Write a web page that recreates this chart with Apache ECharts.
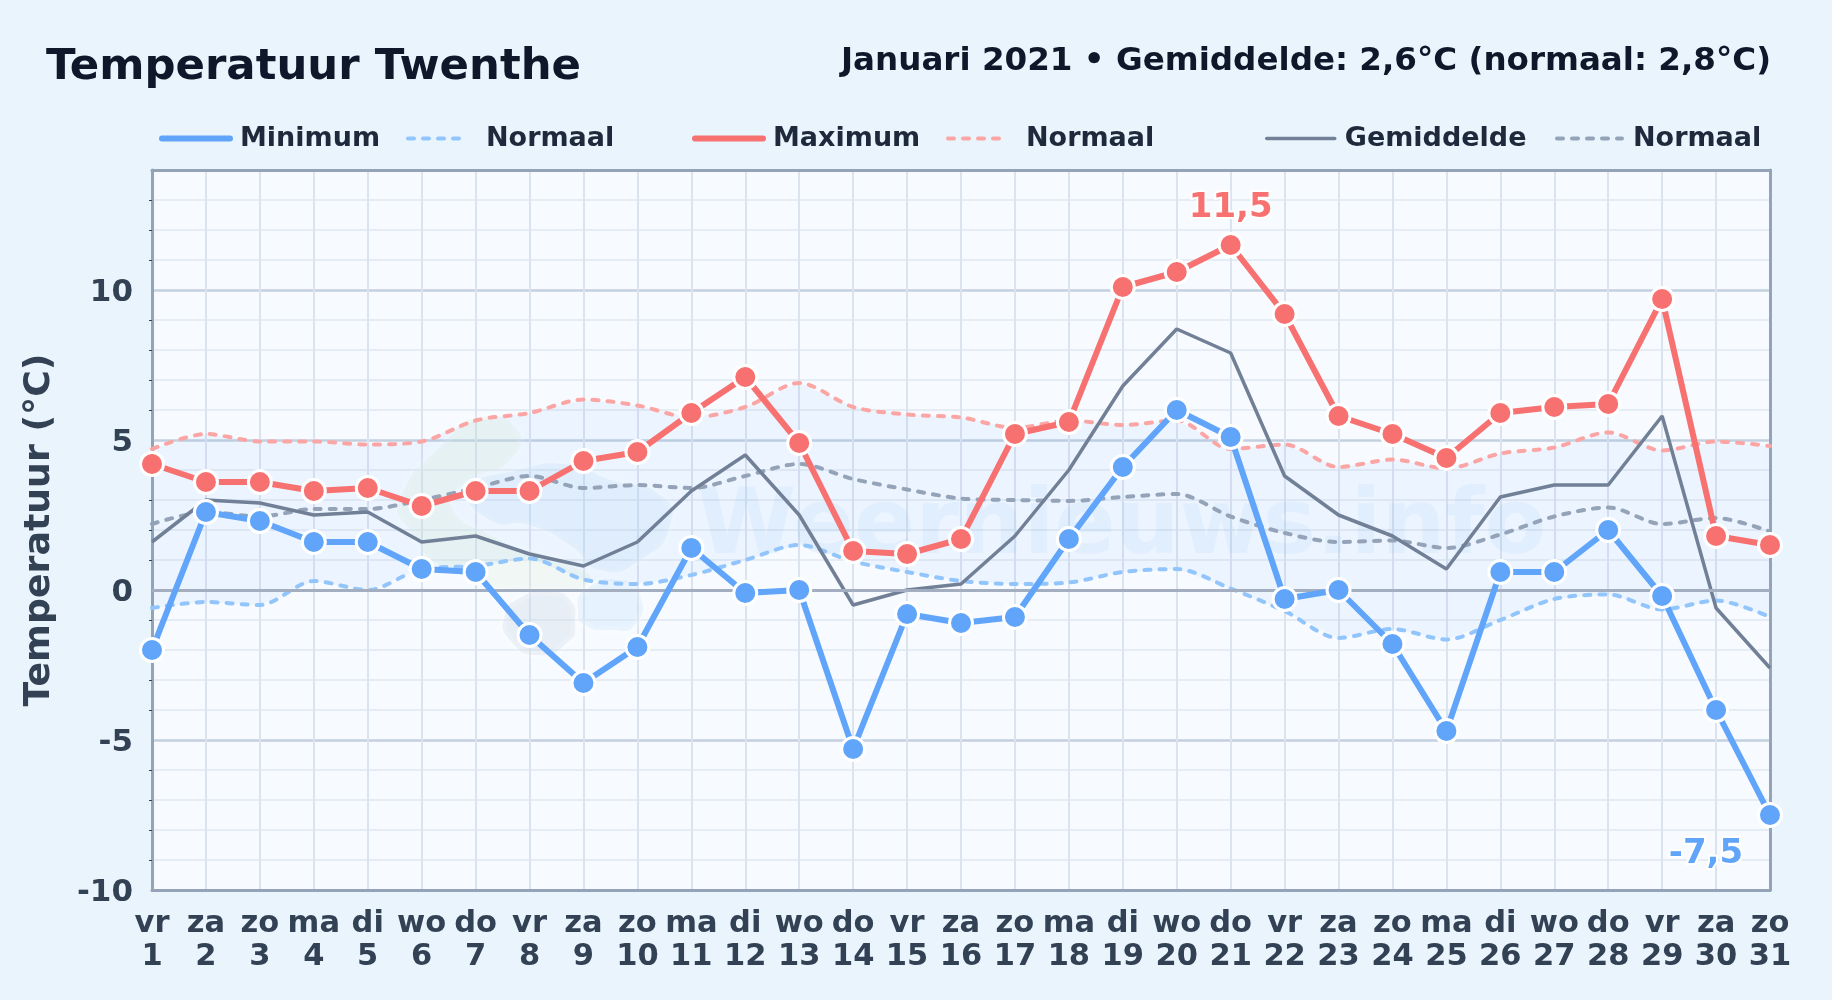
<!DOCTYPE html>
<html><head><meta charset="utf-8">
<script src="https://cdn.jsdelivr.net/npm/echarts@6/dist/echarts.min.js"></script>
<style>html,body{margin:0;padding:0;background:#eaf4fc}#c{width:1832px;height:1000px}</style>
</head><body><div id="c"></div>
<script>
const weekdays = ['vr','za','zo','ma','di','wo','do','vr','za','zo','ma','di','wo','do','vr','za','zo','ma','di','wo','do','vr','za','zo','ma','di','wo','do','vr','za','zo'];
const days = [1,2,3,4,5,6,7,8,9,10,11,12,13,14,15,16,17,18,19,20,21,22,23,24,25,26,27,28,29,30,31];
const minimum = [-2,2.6,2.3,1.6,1.6,0.7,0.6,-1.5,-3.1,-1.9,1.4,-0.1,0,-5.3,-0.8,-1.1,-0.9,1.7,4.1,6.0,5.1,-0.3,0,-1.8,-4.7,0.6,0.6,2.0,-0.2,-4.0,-7.5];
const maximum = [4.2,3.6,3.6,3.3,3.4,2.8,3.3,3.3,4.3,4.6,5.9,7.1,4.9,1.3,1.2,1.7,5.2,5.6,10.1,10.6,11.5,9.2,5.8,5.2,4.4,5.9,6.1,6.2,9.7,1.8,1.5];
const gemiddelde = [1.6,3.0,2.9,2.5,2.6,1.6,1.8,1.2,0.8,1.6,3.3,4.5,2.5,-0.5,0,0.2,1.8,4.0,6.8,8.7,7.9,3.8,2.5,1.8,0.7,3.1,3.5,3.5,5.8,-0.6,-2.6];
const normaalMin = [-0.6,-0.4,-0.5,0.3,0,0.7,0.8,1.05,0.35,0.2,0.5,1.0,1.5,0.95,0.6,0.3,0.2,0.25,0.6,0.7,0.05,-0.7,-1.6,-1.3,-1.65,-1.0,-0.3,-0.15,-0.65,-0.35,-0.9];
const normaalMax = [4.7,5.2,4.95,4.95,4.85,4.95,5.65,5.9,6.35,6.15,5.75,6.1,6.9,6.1,5.85,5.75,5.4,5.65,5.5,5.65,4.7,4.85,4.1,4.35,4.05,4.55,4.75,5.25,4.65,4.95,4.8];
const normaalGem = [2.2,2.6,2.45,2.7,2.7,3.0,3.4,3.8,3.4,3.5,3.4,3.8,4.2,3.7,3.35,3.05,3.0,2.97,3.1,3.2,2.45,1.9,1.6,1.65,1.4,1.85,2.45,2.75,2.2,2.4,1.95];
const categories = weekdays.map((w,i)=>w+'\n'+days[i]);
const FONT = '"DejaVu Sans"';
const cMin='#60a5fa', cMax='#f87171', cGem='#718096', cNMin='#93c5fd', cNMax='#fca5a5', cNGem='#94a3b8', cFrame='#94a3b8';

const fmt = v => String(v).replace('.',',');
const withLabel = (arr, target, label) => arr.map(v => v===target ? {value:v,label:Object.assign({show:true,formatter:fmt(v),fontFamily:FONT,fontWeight:'bold',fontSize:34,textBorderColor:'#fff',textBorderWidth:4},label)} : v);

function mainLine(name,data,color){return {name,type:'line',data,z:6,symbol:'circle',symbolSize:23,showSymbol:true,
  lineStyle:{color,width:6},itemStyle:{color,borderColor:'#fff',borderWidth:3},emphasis:{disabled:true},animation:false};}
function normalLine(name,data,color){return {name,type:'line',data,z:3,smooth:0.3,symbol:'none',
  lineStyle:{color,width:4,type:[6,9],cap:'round'},itemStyle:{color},emphasis:{disabled:true},animation:false};}
function legendItem(name,left,w,pad,lineWidth,dashed){return {show:true,data:[name],left,top:120,orient:'horizontal',selectedMode:false,itemWidth:w,itemHeight:10,
  itemStyle:{opacity:0},lineStyle:{width:lineWidth,cap:'round',type:dashed?[6,9]:'solid'},formatter:n=>n.indexOf('Normaal')===0?'Normaal':n,
  textStyle:{fontFamily:FONT,fontWeight:'bold',fontSize:27,color:'#1e293b',padding:[0,0,0,pad]}};}
function blob(points,fill,opacity){return {type:'polygon',z:1,silent:true,shape:{points,smooth:0.6},style:{fill,opacity,stroke:'rgba(255,255,255,0.5)',lineWidth:8}};}

const chart = echarts.init(document.getElementById('c'),null,{renderer:'canvas'});
chart.setOption({
  animation:false,
  backgroundColor:'#eaf4fc',
  title:[
    {text:'Temperatuur Twenthe',left:41,top:41,textStyle:{fontFamily:FONT,fontWeight:'bold',fontSize:43.4,color:'#0f172a'}},
    {text:'Januari 2021 • Gemiddelde: 2,6°C (normaal: 2,8°C)',right:56,top:40,textStyle:{fontFamily:FONT,fontWeight:'bold',fontSize:32.55,color:'#0f172a'}}
  ],
  legend:[
    legendItem('Minimum',154,68,5,6,false),
    legendItem('Normaal min',401,58,15,4,true),
    legendItem('Maximum',687,68,5,6,false),
    legendItem('Normaal max',941,58,15,4,true),
    legendItem('Gemiddelde',1260,68,5,3.5,false),
    legendItem('Normaal gem',1550,65,6,4,true)
  ],
  grid:{left:152,right:62,top:170,bottom:110,show:true,backgroundColor:'#f7fbff',borderWidth:0,containLabel:false},
  xAxis:[{type:'category',data:categories,boundaryGap:false,
    axisLine:{show:true,onZero:false,lineStyle:{color:cFrame,width:3}},axisTick:{show:false},
    axisLabel:{interval:0,margin:18,fontFamily:FONT,fontWeight:'bold',fontSize:30.5,lineHeight:33,color:'#334155'},
    splitLine:{show:true,interval:0,lineStyle:{color:'#dbe3ee',width:2}}},
    {type:'category',data:categories,boundaryGap:false,position:'top',
    axisLine:{show:true,onZero:false,lineStyle:{color:cFrame,width:3}},axisTick:{show:false},axisLabel:{show:false},splitLine:{show:false}}],
  yAxis:[{type:'value',min:-10,max:14,interval:5,
    name:'Temperatuur (°C)',nameLocation:'middle',nameGap:94,nameRotate:90,
    nameTextStyle:{fontFamily:FONT,fontWeight:'bold',fontSize:36.3,color:'#334155'},
    axisLine:{show:true,onZero:false,lineStyle:{color:cFrame,width:3}},axisTick:{show:false},
    minorTick:{show:true,splitNumber:5,length:3,lineStyle:{color:'#334155',width:1}},
    minorSplitLine:{show:true,lineStyle:{color:'#e6ecf3',width:2}},
    axisLabel:{margin:19,color:'#334155',
      rich:{n:{fontFamily:FONT,fontWeight:'bold',fontSize:31,color:'#334155',padding:[6,0,0,0]}},
      formatter:v=>v===14?'':'{n|'+v+'}'},
    splitLine:{show:true,lineStyle:{color:'#c3d0df',width:2.5}}},
    {type:'value',min:-10,max:14,interval:5,position:'right',
    axisLine:{show:true,onZero:false,lineStyle:{color:cFrame,width:3}},axisTick:{show:false},axisLabel:{show:false},splitLine:{show:false}}],
  graphic:[
    blob([[447,440],[480,417],[517,430],[510,460],[470,480],[450,505],[500,540],[555,560],[590,580],[540,590],[450,570],[410,530],[400,500]],'#dcebd5',0.25),
    blob([[470,490],[520,470],[570,465],[610,480],[660,495],[670,525],[640,560],[600,570],[570,545],[530,525],[490,520]],'#bcd8f2',0.24),
    blob([[548,592],[570,600],[575,625],[570,640],[540,655],[510,640],[505,615],[520,598]],'#c9d8e6',0.35),
    blob([[585,590],[620,580],[640,595],[635,625],[610,630],[585,625],[578,610]],'#c6e2fa',0.35),
    {type:'text',z:1,silent:true,left:697,top:485,style:{text:'Weernieuws.info',fontFamily:FONT,fontWeight:'bold',fontSize:90,fill:'rgba(59,130,246,0.06)'}}
  ],
  series:[
    {name:'band',type:'custom',z:1,silent:true,data:normaalMax.map((v,i)=>[i,v]),encode:{x:0,y:1},clip:true,
     renderItem(params,api){
       if(params.dataIndex!==0) return null;
       const top=normaalMax.map((v,i)=>api.coord([i,v]));
       const bot=normaalMin.map((v,i)=>api.coord([i,v])).reverse();
       return {type:'polygon',shape:{points:top.concat(bot)},style:{fill:'rgba(96,165,250,0.065)'}};
     }},
    Object.assign(normalLine('Normaal min',normaalMin,cNMin),{markLine:{silent:true,symbol:'none',label:{show:false},data:[{yAxis:0}],lineStyle:{color:'#a3afc0',width:3,type:'solid',cap:'butt'}}}),
    normalLine('Normaal max',normaalMax,cNMax),
    normalLine('Normaal gem',normaalGem,cNGem),
    {name:'Gemiddelde',type:'line',data:gemiddelde,z:4,symbol:'none',lineStyle:{color:cGem,width:3.5},itemStyle:{color:cGem},emphasis:{disabled:true},animation:false},
    mainLine('Minimum',withLabel(minimum,-7.5,{position:'bottom',distance:0,offset:[-64,9],color:cMin}),cMin),
    mainLine('Maximum',withLabel(maximum,11.5,{position:'top',distance:7,color:cMax}),cMax)
  ]
});
</script></body></html>
